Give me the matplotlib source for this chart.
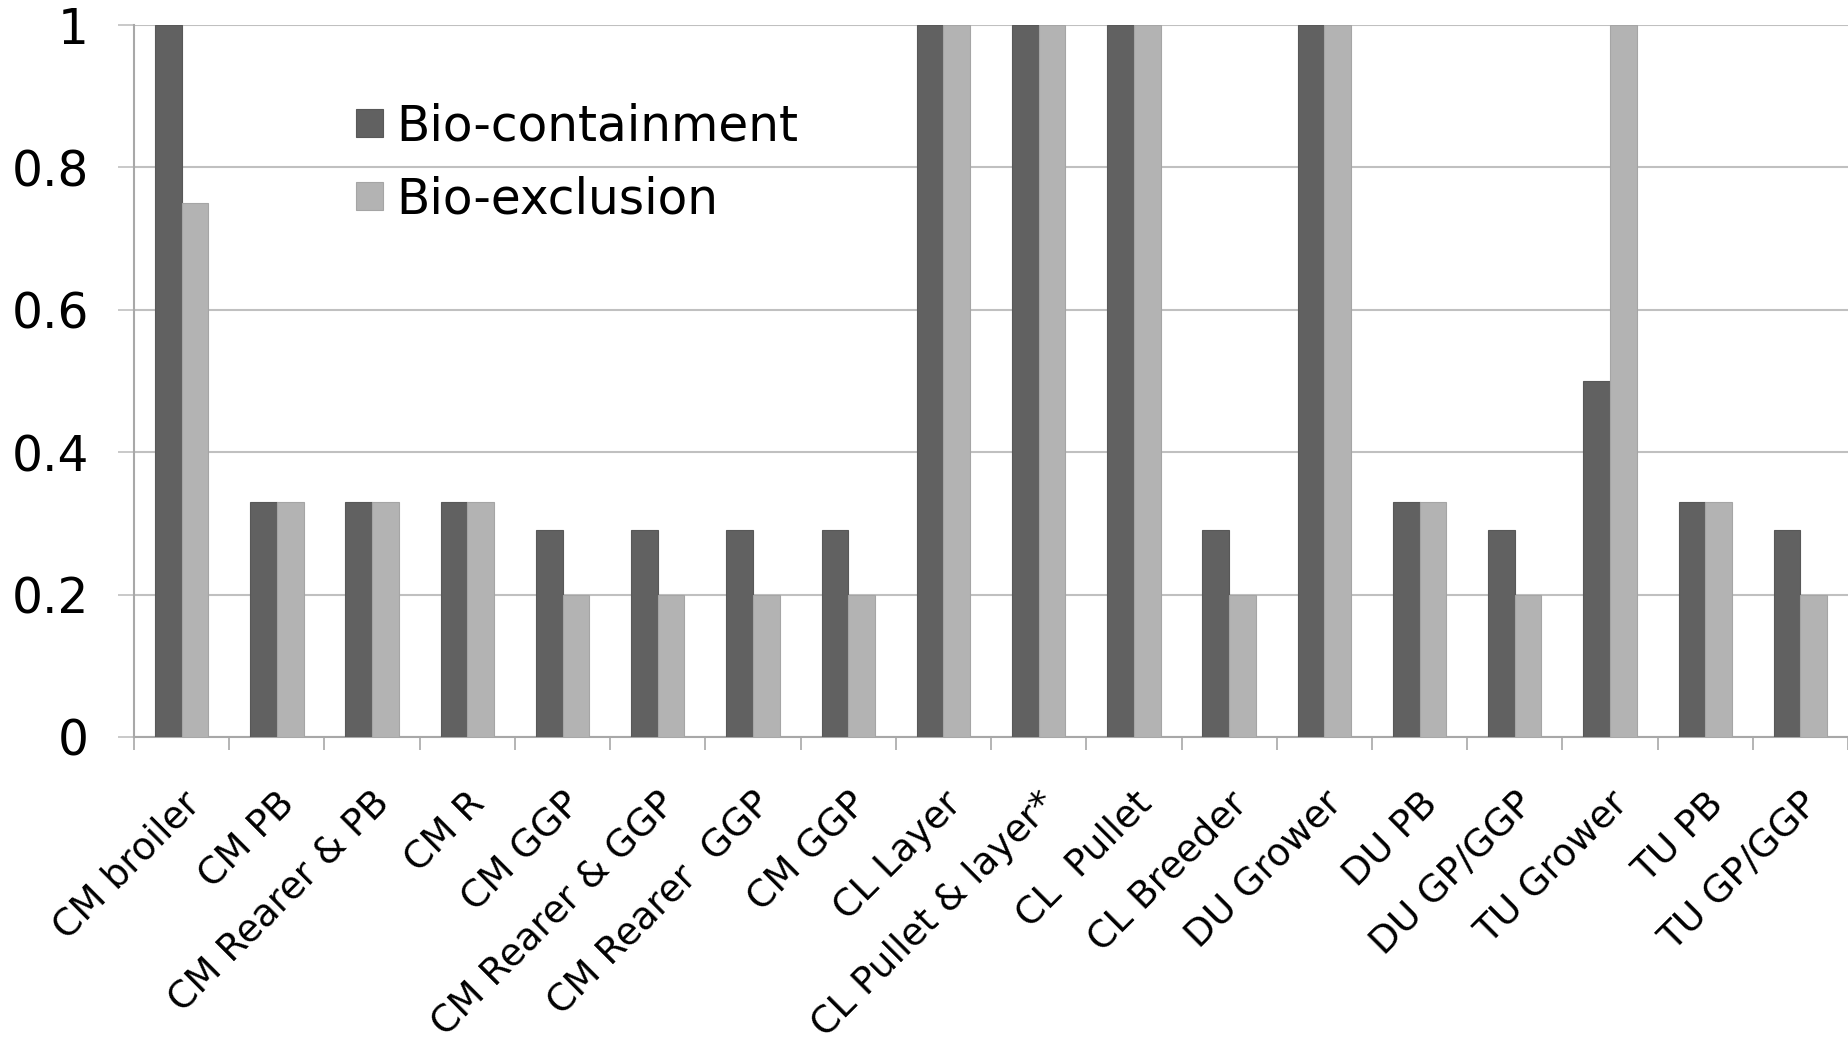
import numpy as np
import matplotlib
matplotlib.use("Agg")
import matplotlib.pyplot as plt

plt.rcParams['font.family'] = ['DejaVu Sans']

categories = ["CM broiler", "CM PB", "CM Rearer & PB", "CM R", "CM GGP",
              "CM Rearer & GGP", "CM Rearer  GGP", "CM GGP", "CL Layer",
              "CL Pullet & layer*", "CL  Pullet", "CL Breeder", "DU Grower",
              "DU PB", "DU GP/GGP", "TU Grower", "TU PB", "TU GP/GGP"]
bio_containment = [1.0, 0.33, 0.33, 0.33, 0.29, 0.29, 0.29, 0.29, 1.0,
                   1.0, 1.0, 0.29, 1.0, 0.33, 0.29, 0.5, 0.33, 0.29]
bio_exclusion = [0.75, 0.33, 0.33, 0.33, 0.2, 0.2, 0.2, 0.2, 1.0,
                 1.0, 1.0, 0.2, 1.0, 0.33, 0.2, 1.0, 0.33, 0.2]
y_ticks = [0, 0.2, 0.4, 0.6, 0.8, 1]
y_tick_labels = ["0", "0.2", "0.4", "0.6", "0.8", "1"]

DARK = '#616161'
LIGHT = '#b3b3b3'
GRID = '#c0c0c0'
AXIS = '#a8a8a8'

fig = plt.figure(figsize=(18.49, 10.51), dpi=100)
ax = fig.add_axes([0.0725, 0.2988, 0.9270, 0.6774])

x = np.arange(len(categories))
w = 0.28
ax.bar(x - w / 2, bio_containment, w, color=DARK, edgecolor='#585858',
       linewidth=0.8, label='Bio-containment', zorder=3)
ax.bar(x + w / 2, bio_exclusion, w, color=LIGHT, edgecolor='#a5a5a5',
       linewidth=0.8, label='Bio-exclusion', zorder=3)

ax.set_xlim(-0.5, len(categories) - 0.5)
ax.set_ylim(0, 1)

# y axis: gridlines plus small outward ticks
ax.set_yticks(y_ticks)
ax.set_yticklabels(y_tick_labels, fontsize=35)
ax.yaxis.grid(True, color=GRID, linewidth=1.5, zorder=0)
ax.tick_params(axis='y', length=11.5, width=1.2, color=GRID, pad=21)

# x axis: tick marks between groups, labels under each group
ax.set_xticks(x)
ax.set_xticklabels(categories, fontsize=27, rotation=45,
                   ha='right', va='top', rotation_mode='anchor')
ax.set_xticks(np.arange(len(categories) + 1) - 0.5, minor=True)
ax.tick_params(axis='x', which='major', length=0, pad=35)
ax.tick_params(axis='x', which='minor', length=9.5, width=1.2, color=AXIS)

for side in ('top', 'right'):
    ax.spines[side].set_visible(False)
for side in ('left', 'bottom'):
    ax.spines[side].set_color(AXIS)
    ax.spines[side].set_linewidth(1.5)

ax.legend(loc='upper left', bbox_to_anchor=(0.1925, 0.9027),
          bbox_transform=fig.transFigure, frameon=False, fontsize=35,
          handlelength=0.56, handleheight=0.51, handletextpad=0.27,
          labelspacing=0.52, borderpad=0, borderaxespad=0)

fig.savefig('out.png', dpi=100)
